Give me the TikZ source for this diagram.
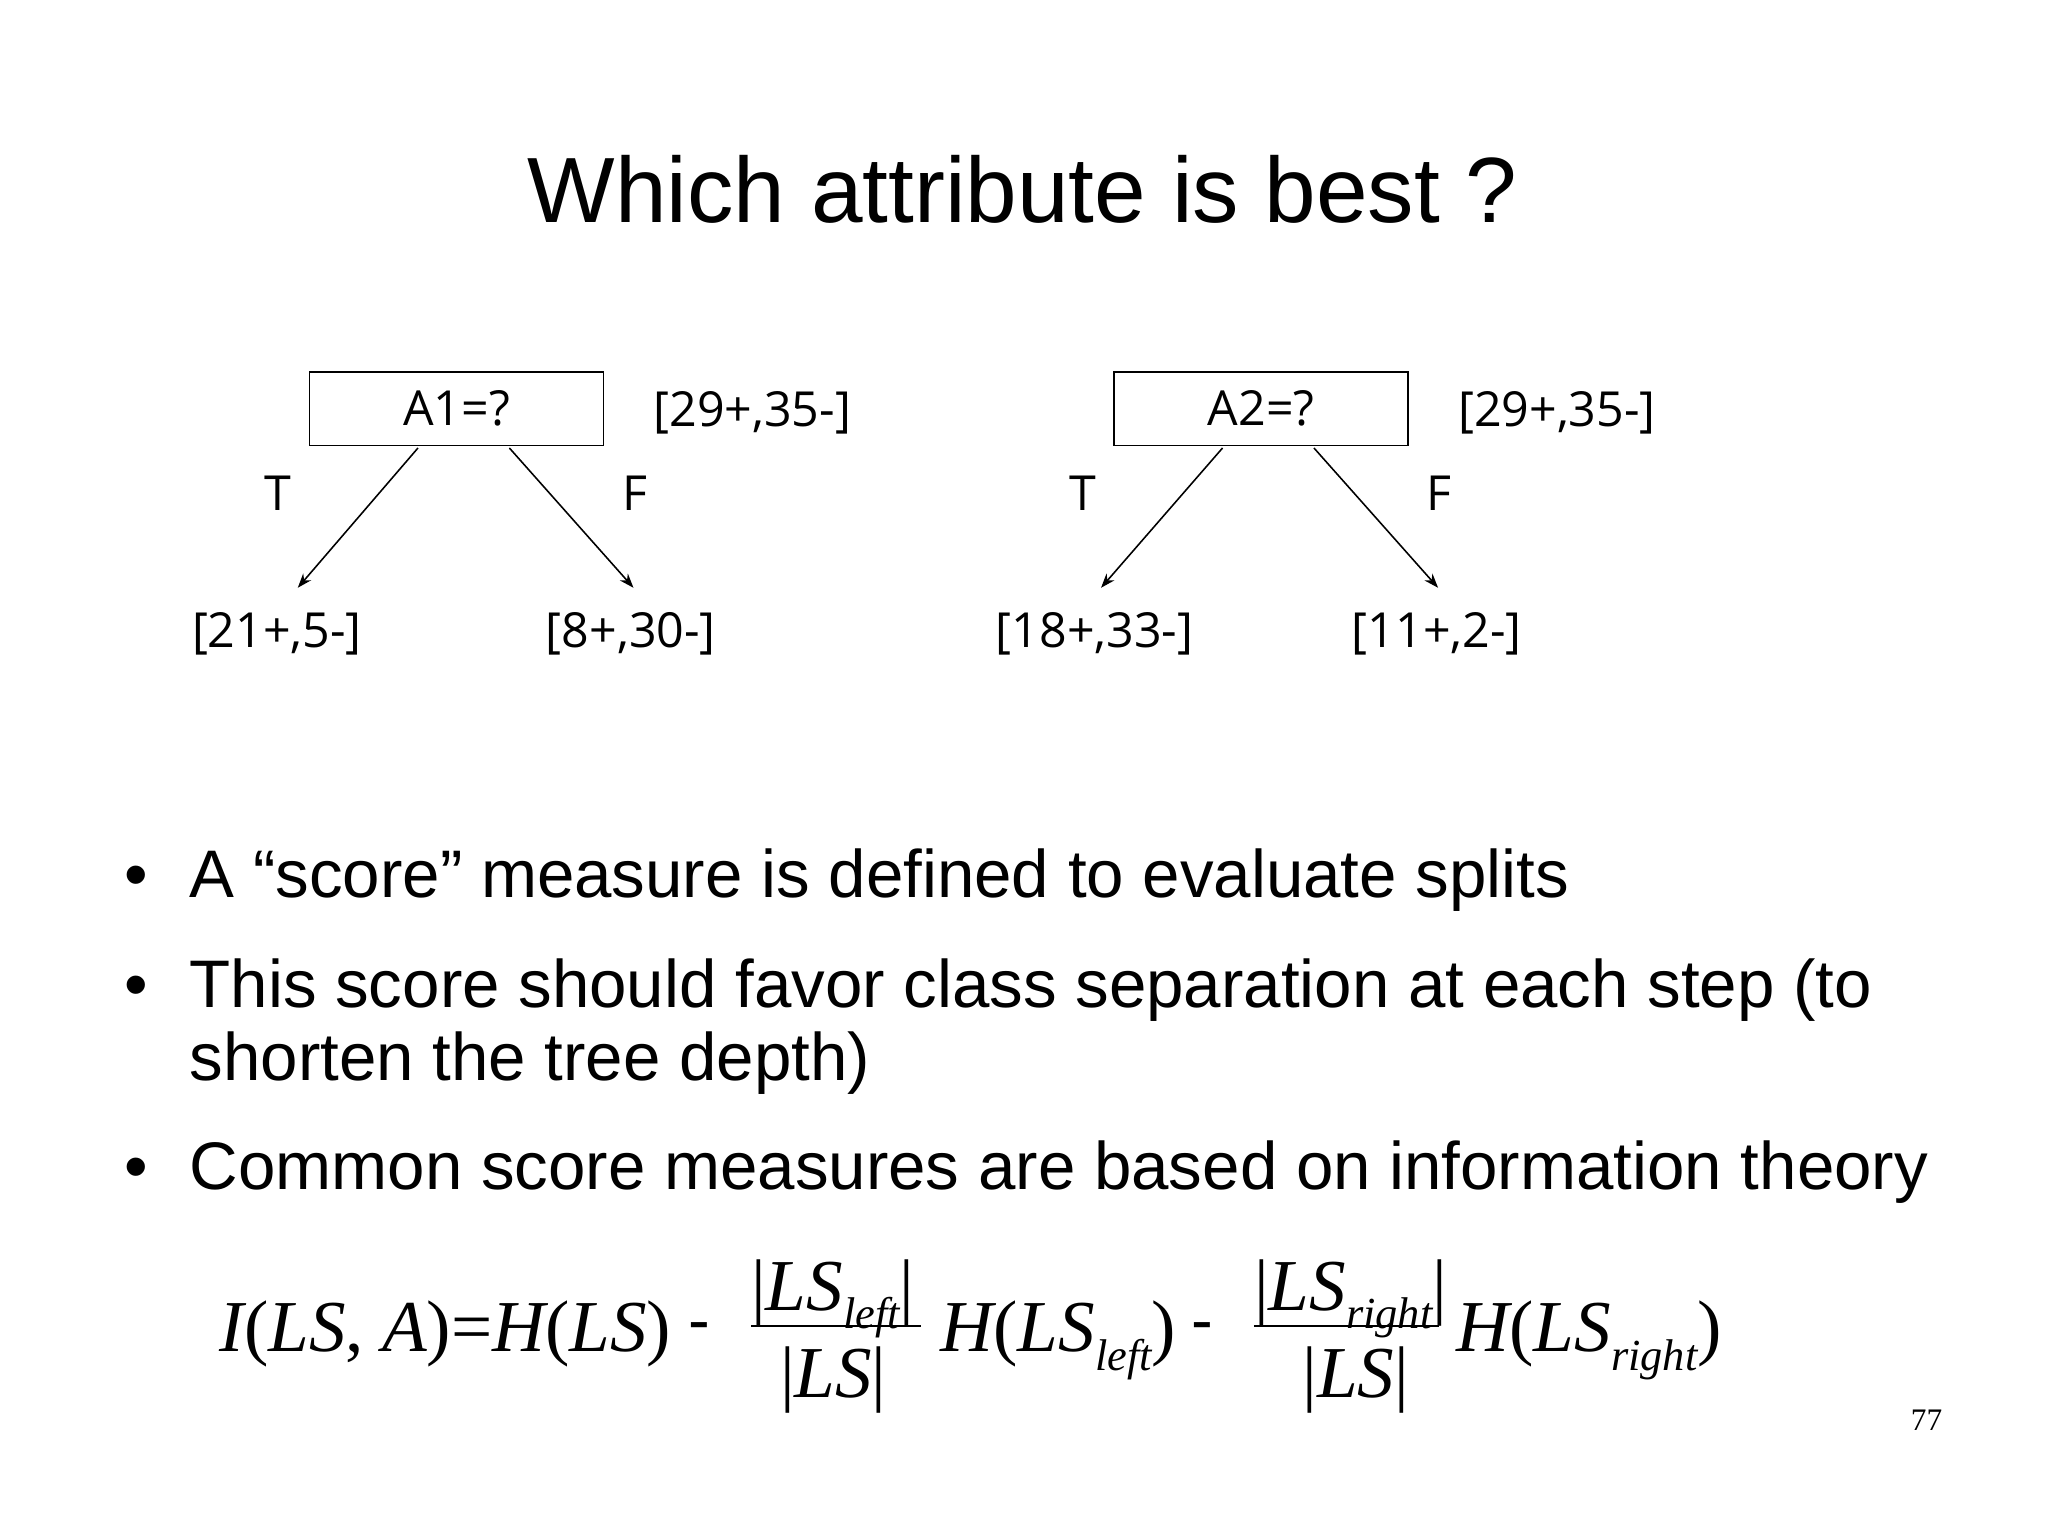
\documentclass[tikz,border=0pt]{standalone}
\usepackage{fontspec}
\setmainfont{Liberation Sans}
\newfontfamily\treef{Open Sans}
\newfontfamily\tms{Liberation Serif}
\usetikzlibrary{arrows.meta}
\newcommand{\sbt}[1]{\raisebox{-0.25em}{\fontsize{34}{34}\selectfont #1}}
\begin{document}
\begin{tikzpicture}[x=1pt,y=-1pt,
  lbl/.style={font=\treef\fontsize{37}{42}\selectfont, inner sep=0},
  tbox/.style={draw, line width=1.2pt, minimum width=225pt, minimum height=56pt, inner sep=0, font=\treef\fontsize{37}{42}\selectfont},
  arr/.style={line width=1.2pt, -{Stealth[length=11pt,width=8pt]}},
  bul/.style={font=\fontsize{51.5}{60}\selectfont, anchor=base west, inner sep=0},
  fm/.style={font=\tms\itshape\fontsize{56}{60}\selectfont, anchor=base west, inner sep=0}]
\useasboundingbox (0,0) rectangle (1568,1175);
\node[font=\fontsize{71}{80}\selectfont, anchor=base] (title) at (783,170) {Which attribute is best ?};
% tree 1
\node[tbox] (b1) at (349.5,313) {A1=?};
\node[lbl] (c1) at (576,316) {[29+,35-]};
\node[lbl] (t1) at (213,378) {T};
\node[lbl] (f1) at (486,378) {F};
\coordinate (s1a) at (320,343); \coordinate (s1b) at (390,343);
\coordinate (e1a) at (228,450); \coordinate (e1b) at (485,450);
\draw[arr] (s1a) -- (e1a); \draw[arr] (s1b) -- (e1b);
\node[lbl] (l1) at (212,485) {[21+,5-]};
\node[lbl] (r1) at (483,485) {[8+,30-]};
% tree 2
\node[tbox] (b2) at (965.5,313) {A2=?};
\node[lbl] (c2) at (1192,316) {[29+,35-]};
\node[lbl] (t2) at (829,378) {T};
\node[lbl] (f2) at (1102,378) {F};
\coordinate (s2a) at (936,343); \coordinate (s2b) at (1006,343);
\coordinate (e2a) at (843,450); \coordinate (e2b) at (1101,450);
\draw[arr] (s2a) -- (e2a); \draw[arr] (s2b) -- (e2b);
\node[lbl] (l2) at (838,485) {[18+,33-]};
\node[lbl] (r2) at (1100,485) {[11+,2-]};
% bullets
\node[bul] (d1) at (95,687) {•};
\node[bul] (p1) at (145,687) {A “score” measure is defined to evaluate splits};
\node[bul] (d2) at (95,771) {•};
\node[bul] (p2) at (145,771) {This score should favor class separation at each step (to};
\node[bul] (p2b) at (145,827) {shorten the tree depth)};
\node[bul] (d3) at (95,911) {•};
\node[bul] (p3) at (145,911) {Common score measures are based on information theory};
% formula
\node[fm] (fa) at (168,1035) {I\upshape(\itshape LS\upshape, \itshape A\upshape)=\itshape H\upshape(\itshape LS\upshape)};
\node[fm, font=\fontsize{50}{50}\selectfont] (m1) at (527,1028) {-};
\node[fm] (n1) at (575,1003) {\upshape|\itshape LS\sbt{left}\upshape|};
\draw[line width=1.5pt] (575,1015) -- (705,1015);
\node[fm] (d1f) at (597,1070) {\upshape|\itshape LS\upshape|};
\node[fm] (h1) at (720,1035) {H\upshape(\itshape LS\sbt{left}\upshape)};
\node[fm, font=\fontsize{50}{50}\selectfont] (m2) at (912,1028) {-};
\node[fm] (n2) at (960,1003) {\upshape|\itshape LS\sbt{right}\upshape|};
\draw[line width=1.5pt] (960,1015) -- (1102,1015);
\node[fm] (d2f) at (997,1070) {\upshape|\itshape LS\upshape|};
\node[fm] (h2) at (1115,1035) {H\upshape(\itshape LS\sbt{right}\upshape)};
\node[font=\tms\fontsize{24}{24}\selectfont, anchor=base] (pg) at (1475,1095) {77};
\end{tikzpicture}
\end{document}
